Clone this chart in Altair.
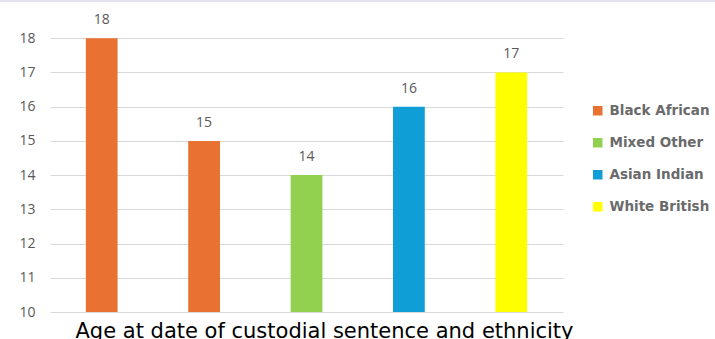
import altair as alt
import pandas as pd

# Bar values: average age at date of custodial sentence per case group
bar_ids = ["1", "2", "3", "4", "5"]
ethnicity = ["Black African", "Black African", "Mixed Other", "Asian Indian", "White British"]
ages = [18, 15, 14, 16, 17]

legend_order = ["Black African", "Mixed Other", "Asian Indian", "White British"]
legend_colors = ["#E97132", "#92D050", "#0F9ED5", "#FFFF00"]

y_ticks = [10, 11, 12, 13, 14, 15, 16, 17, 18]

df = pd.DataFrame({"bar": bar_ids, "ethnicity": ethnicity, "age": ages})

label_grey = "#595959"
tick_font = "Open Sans"

x_enc = alt.X("bar:N", sort=bar_ids, axis=None,
              scale=alt.Scale(paddingInner=0.69, paddingOuter=0.35))
y_scale = alt.Scale(domain=[10, 19], nice=False, zero=False)
y_axis = alt.Axis(values=y_ticks, title=None, domain=False, ticks=False,
                  grid=True, gridColor="#d9d9d9", gridWidth=1,
                  labelOverlap=False, labelFont=tick_font, labelFontSize=14,
                  labelColor=label_grey, labelPadding=15)

bars = alt.Chart(df).mark_bar().encode(
    x=x_enc,
    y=alt.Y("age:Q", scale=y_scale, axis=y_axis),
    y2=alt.datum(10),
    color=alt.Color("ethnicity:N",
                    scale=alt.Scale(domain=legend_order, range=legend_colors),
                    legend=alt.Legend(title=None, orient="none", legendX=541, legendY=100,
                                      symbolType="square", symbolSize=90,
                                      symbolStrokeWidth=0,
                                      labelFont="DejaVu Sans", labelFontSize=13.5,
                                      labelColor="#6a6a6a", labelFontWeight="bold",
                                      labelOffset=5, rowPadding=17)),
)

values = alt.Chart(df).mark_text(dy=-18, font=tick_font, fontSize=14,
                                 color=label_grey).encode(
    x=x_enc,
    y=alt.Y("age:Q", scale=y_scale, axis=y_axis),
    text=alt.Text("age:Q"),
)

top_band = alt.Chart(df).mark_rule(color="#e3e3ef", strokeWidth=2).encode(
    x=alt.value(-50), x2=alt.value(665), y=alt.value(-3)
)

chart = alt.layer(bars, values, top_band).properties(
    width=513,
    height=308,
    padding={"left": 50, "top": 4, "right": 152, "bottom": 27},
    autosize=alt.AutoSizeParams(type="none"),
    title=alt.TitleParams(
        "Age at date of custodial sentence and ethnicity",
        orient="bottom", anchor="middle", dx=18, offset=2,
        font="DejaVu Sans", fontSize=21, fontWeight="normal", color="#000000",
    ),
).configure_view(stroke=None)

chart.save("out.html", embed_options={"renderer": "svg", "actions": False})
